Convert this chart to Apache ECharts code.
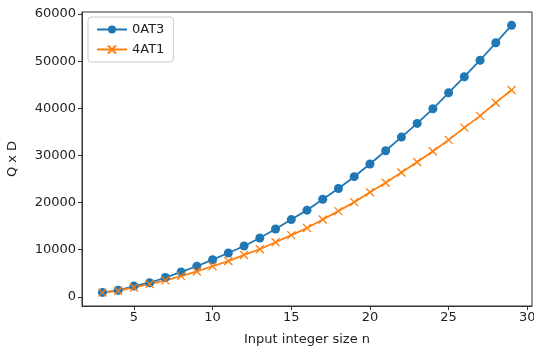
<!DOCTYPE html>
<html>
<head>
<meta charset="utf-8">
<script src="https://cdn.jsdelivr.net/npm/echarts@6/dist/echarts.min.js"></script>
<style>html,body{margin:0;padding:0;background:#fff}#c{width:534px;height:347px}</style>
</head>
<body>
<div id="c"></div>
<script>
const nValues = [3,4,5,6,7,8,9,10,11,12,13,14,15,16,17,18,19,20,21,22,23,24,25,26,27,28,29];
const series0AT3 = [950,1400,2300,3000,4100,5300,6500,7900,9300,10800,12500,14400,16400,18400,20700,23000,25500,28200,31000,33900,36800,39900,43300,46700,50200,53900,57600];
const series4AT1 = [900,1300,2000,2700,3500,4400,5400,6500,7600,8900,10100,11600,13100,14600,16400,18200,20100,22200,24200,26400,28600,30900,33300,35900,38400,41200,43900];
const xTicks = [5,10,15,20,25,30];
const yTicks = [0,10000,20000,30000,40000,50000,60000];
const seriesNames = ['0AT3','4AT1'];

const font = 'DejaVu Sans';
const fs = 13;
const chart = echarts.init(document.getElementById('c'), null, {renderer:'canvas'});
chart.setOption({
  animation: false,
  grid: {left: 82, right: 2, top: 12, bottom: 41, show: true, borderColor: '#333', borderWidth: 1,
    containLabel: false, outerBoundsMode: 'none'},
  legend: {
    orient: 'vertical', left: 88, top: 17, padding: [6,9,6,8], itemGap: 7,
    itemWidth: 30, itemHeight: 10,
    backgroundColor: '#fff', borderColor: '#ccc', borderWidth: 1, borderRadius: 3,
    textStyle: {fontFamily: font, fontSize: fs, color: '#222'},
    data: seriesNames
  },
  xAxis: {
    type: 'value', min: 1.7, max: 30.3,
    name: 'Input integer size n', nameLocation: 'middle', nameGap: 27,
    nameTextStyle: {fontFamily: font, fontSize: fs, color: '#222'},
    splitLine: {show: false},
    axisLine: {show: true, onZero: false, lineStyle: {color: '#333', width: 1}},
    axisTick: {show: true, length: 4, lineStyle: {color: '#333'}, customValues: xTicks},
    axisLabel: {fontFamily: font, fontSize: fs, color: '#222', margin: 5, customValues: xTicks}
  },
  yAxis: {
    type: 'value', min: -1935, max: 60435,
    name: 'Q x D', nameLocation: 'middle', nameGap: 63, nameRotate: 90,
    nameTextStyle: {fontFamily: font, fontSize: fs, color: '#222'},
    splitLine: {show: false},
    axisLine: {show: true, onZero: false, lineStyle: {color: '#333', width: 1}},
    axisTick: {show: true, length: 4, lineStyle: {color: '#333'}, customValues: yTicks},
    axisLabel: {fontFamily: font, fontSize: fs, color: '#222', margin: 6, customValues: yTicks,
      formatter: v => String(v)}
  },
  series: [
    {
      name: seriesNames[0], type: 'line',
      data: nValues.map((n,i) => [n, series0AT3[i]]),
      symbol: 'circle', symbolSize: 9, showSymbol: true,
      lineStyle: {color: '#1f77b4', width: 1.8},
      itemStyle: {color: '#1f77b4', borderWidth: 0}
    },
    {
      name: seriesNames[1], type: 'line',
      data: nValues.map((n,i) => [n, series4AT1[i]]),
      symbol: 'path://M0,0L10,10M10,0L0,10', symbolSize: 8, showSymbol: true,
      lineStyle: {color: '#ff7f0e', width: 1.8},
      itemStyle: {color: '#ff7f0e', borderColor: '#ff7f0e', borderWidth: 1.3}
    }
  ]
});
</script>
</body>
</html>
